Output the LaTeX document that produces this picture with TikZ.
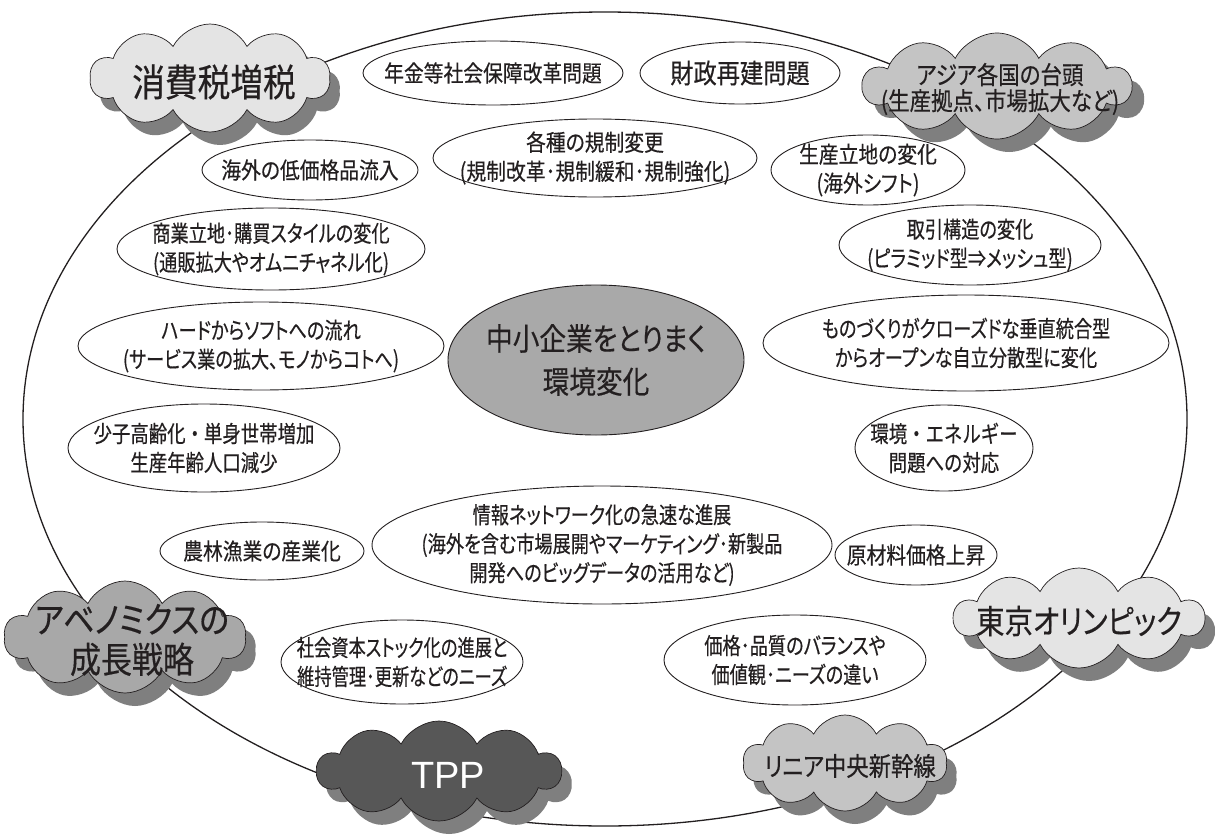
\documentclass[tikz,border=0pt]{standalone}
\usepackage{fontspec}
\newfontfamily\jp[FakeStretch=0.86,FakeBold=0.4,RawFeature=+palt]{Noto Sans CJK JP}
\newfontfamily\jpm[FakeStretch=0.79,FakeBold=0.4,RawFeature=+palt]{Noto Sans CJK JP}
\newfontfamily\jpn[FakeStretch=0.75,FakeBold=0.4,RawFeature=+palt]{Noto Sans CJK JP}
\newfontfamily\jpw[FakeStretch=0.86,FakeBold=0.4]{Noto Sans CJK JP}
\newfontfamily\jpwm[FakeStretch=0.8,FakeBold=0.4]{Noto Sans CJK JP}
\newfontfamily\tppfont{Liberation Sans}
\usetikzlibrary{shapes.symbols,shapes.geometric}
\definecolor{shadowgray}{HTML}{7F7F7F}
\definecolor{cLight}{HTML}{E4E4E4}
\definecolor{cMid}{HTML}{C4C4C4}
\definecolor{cAbe}{HTML}{A8A8A8}
\definecolor{cDark}{HTML}{575757}
\definecolor{cCenter}{HTML}{A9A9A9}
\definecolor{ink}{HTML}{231F20}
\tikzset{
  bubble/.style={ellipse, draw=ink, line width=0.9pt, inner sep=0pt},
  lbl/.style={align=center, inner sep=0pt, text=ink, font=\jp\fontsize{23}{29}\selectfont},
  puff/.style={cloud, cloud puffs=10, cloud puff arc=125, cloud ignores aspect, inner sep=0pt},
  cloudbody/.style={puff, draw=ink, line width=0.7pt},
  cloudshadow/.style={puff, fill=shadowgray},
}
\begin{document}
\begin{tikzpicture}[x=1pt,y=-1pt]
\useasboundingbox (0,0) rectangle (1215,835);
\fill[white] (0,0) rectangle (1215,835);
% outer ring
\node[ellipse, draw=ink, line width=1.3pt, minimum width=1164, minimum height=814, inner sep=0pt] (ring) at (605,419) {};

% clouds: shadows
\node[cloudshadow, minimum width=240, minimum height=108] (s1) at (220,91) {};
\node[cloudshadow, minimum width=268, minimum height=106] (s2) at (1009,99) {};
\node[cloudshadow, minimum width=242, minimum height=112] (s3) at (135,650) {};
\node[cloudshadow, minimum width=244, minimum height=100] (s4) at (449,784) {};
\node[cloudshadow, minimum width=250, minimum height=100] (s5) at (1089,631) {};
\node[cloudshadow, minimum width=204, minimum height=96] (s6) at (855,776) {};

% clouds: bodies
\node[cloudbody, fill=cLight, minimum width=240, minimum height=108] (c1) at (210,78) {};
\node[cloudbody, fill=cMid, minimum width=268, minimum height=106] (c2) at (997,86) {};
\node[cloudbody, fill=cAbe, minimum width=242, minimum height=112] (c3) at (125,637) {};
\node[cloudbody, fill=cDark, minimum width=244, minimum height=100] (c4) at (439,771) {};
\node[cloudbody, fill=cLight, minimum width=250, minimum height=100] (c5) at (1079,618) {};
\node[cloudbody, fill=cMid, minimum width=204, minimum height=96] (c6) at (845,763) {};

\node[lbl, font=\jp\fontsize{38}{40}\selectfont] (t1) at (214,82) {消費税増税};
\node[lbl, font=\jp\fontsize{25}{26}\selectfont] (t2) at (1000,89) {アジア各国の台頭\\(生産拠点、市場拡大など)};
\node[lbl, font=\jp\fontsize{36}{40}\selectfont] (t3) at (132,640) {アベノミクスの\\成長戦略};
\node[lbl, text=white, font=\tppfont\fontsize{38}{40}\selectfont] (t4) at (448,775) {TPP};
\node[lbl, font=\jp\fontsize{33}{36}\selectfont] (t5) at (1079,621) {東京オリンピック};
\node[lbl, font=\jp\fontsize{26}{28}\selectfont] (t6) at (850,766) {リニア中央新幹線};

% centre
\node[ellipse, draw=ink, line width=0.9pt, fill=cCenter, minimum width=296, minimum height=150, inner sep=0pt] (core) at (596,360) {};
\node[lbl, font=\jp\fontsize{31}{43}\selectfont] at (core) {中小企業をとりまく\\環境変化};

% bubbles
\node[bubble, minimum width=260, minimum height=64] (e1) at (493,73) {};
\node[lbl] at (e1) {年金等社会保障改革問題};
\node[bubble, minimum width=200, minimum height=62] (e2) at (740,73) {};
\node[lbl, font=\jp\fontsize{27}{29}\selectfont] at (e2) {財政再建問題};
\node[bubble, minimum width=324, minimum height=78] (e3) at (595,158) {};
\node[lbl] at (e3) {各種の規制変更\\(規制改革･規制緩和･規制強化)};
\node[bubble, minimum width=216, minimum height=60] (e4) at (310,170) {};
\node[lbl] at (e4) {海外の低価格品流入};
\node[bubble, minimum width=194, minimum height=70] (e5) at (868,170) {};
\node[lbl] at (e5) {生産立地の変化\\(海外シフト)};
\node[bubble, minimum width=308, minimum height=82] (e6) at (271,249) {};
\node[lbl, font=\jpm\fontsize{23}{29}\selectfont] at (e6) {商業立地･購買スタイルの変化\\(通販拡大やオムニチャネル化)};
\node[bubble, minimum width=262, minimum height=80] (e7) at (970,245) {};
\node[lbl, font=\jpm\fontsize{23}{29}\selectfont] at (e7) {取引構造の変化\\(ピラミッド型⇒メッシュ型)};
\node[bubble, minimum width=366, minimum height=88] (e8) at (261,346) {};
\node[lbl, font=\jpm\fontsize{23}{29}\selectfont] at (e8) {ハードからソフトへの流れ\\(サービス業の拡大、モノからコトへ)};
\node[bubble, minimum width=406, minimum height=96] (e9) at (966,343) {};
\node[lbl, font=\jpm\fontsize{23}{29}\selectfont] at (e9) {ものづくりがクローズドな垂直統合型\\からオープンな自立分散型に変化};
\node[bubble, minimum width=272, minimum height=88] (e10) at (204,448) {};
\node[lbl, font=\jpwm\fontsize{23}{29}\selectfont] at (e10) {少子高齢化・単身世帯増加\\生産年齢人口減少};
\node[bubble, minimum width=178, minimum height=86] (e11) at (944,448) {};
\node[lbl, font=\jpwm\fontsize{23}{29}\selectfont] at (e11) {環境・エネルギー\\問題への対応};
\node[bubble, minimum width=204, minimum height=58] (e12) at (262,551) {};
\node[lbl] at (e12) {農林漁業の産業化};
\node[bubble, minimum width=460, minimum height=118] (e13) at (602,545) {};
\node[lbl, font=\jpm\fontsize{23}{29}\selectfont] at (e13) {情報ネットワーク化の急速な進展\\(海外を含む市場展開やマーケティング･新製品\\開発へのビッグデータの活用など)};
\node[bubble, minimum width=162, minimum height=60] (e14) at (916,555) {};
\node[lbl] at (e14) {原材料価格上昇};
\node[bubble, minimum width=242, minimum height=84] (e15) at (402,662) {};
\node[lbl, font=\jpn\fontsize{23}{29}\selectfont] at (e15) {社会資本ストック化の進展と\\維持管理･更新などのニーズ};
\node[bubble, minimum width=262, minimum height=90] (e16) at (795,660) {};
\node[lbl, font=\jpm\fontsize{23}{29}\selectfont] at (e16) {価格･品質のバランスや\\価値観･ニーズの違い};
\end{tikzpicture}
\end{document}
